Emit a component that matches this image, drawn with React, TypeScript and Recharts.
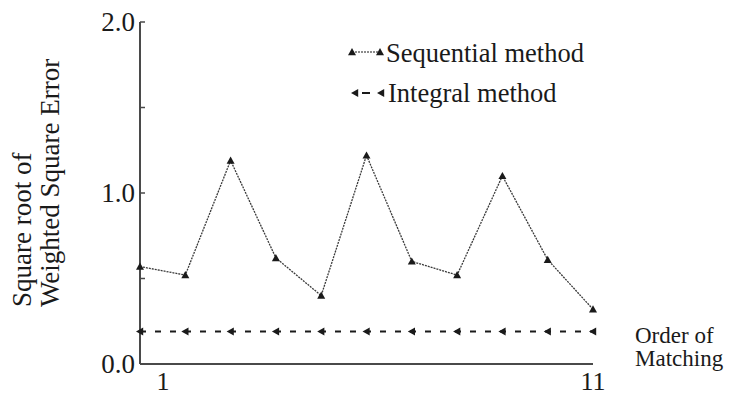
import React from 'react';
import { LineChart, Line, XAxis, YAxis, Legend } from 'recharts';

// order of matching (x) and the two error curves
const orders = [1, 2, 3, 4, 5, 6, 7, 8, 9, 10, 11];
const sequentialError = [0.57, 0.52, 1.19, 0.62, 0.4, 1.22, 0.6, 0.52, 1.1, 0.61, 0.32];
const integralError = [0.19, 0.19, 0.19, 0.19, 0.19, 0.19, 0.19, 0.19, 0.19, 0.19, 0.19];

const yTicks = [0, 0.5, 1, 1.5, 2];
const yTickLabels = ['0.0', '', '1.0', '', '2.0'];
const xTicks = [1, 11];

const FONT = 'Liberation Serif';
const INK = '#1a1a1a';
const AXIS = '#4a4a4a';

const chartData = orders.map((order, i) => ({
  order,
  sequential: sequentialError[i],
  integral: integralError[i],
}));

const upTriangle = (cx: number, cy: number, r = 4) =>
  `M${cx},${cy - r} L${cx + r},${cy + r * 0.8} L${cx - r},${cy + r * 0.8} Z`;

const leftTriangle = (cx: number, cy: number, r = 4) =>
  `M${cx - r},${cy} L${cx + r * 0.8},${cy - r} L${cx + r * 0.8},${cy + r} Z`;

const SeqDot = (props: any) => {
  const { cx, cy, index } = props;
  return <path key={`s-${index}`} d={upTriangle(cx, cy)} fill={INK} />;
};

const IntDot = (props: any) => {
  const { cx, cy, index } = props;
  return <path key={`i-${index}`} d={leftTriangle(cx, cy)} fill={INK} />;
};

const XTick = (props: any) => {
  const { x, y, payload } = props;
  // the "1" label sits a bit to the right of the axis corner in the original
  const shift = payload.value === 1 ? 23 : 0;
  return (
    <text x={x + shift} y={y} dy={26} textAnchor="middle" fontSize={26} fontFamily={FONT} fill={INK}>
      {payload.value}
    </text>
  );
};

const YTick = (props: any) => {
  const { x, y, payload } = props;
  const label = yTickLabels[yTicks.indexOf(payload.value)] ?? '';
  if (!label) return null;
  return (
    <text x={x} y={y} dy={9} textAnchor="end" fontSize={27} fontFamily={FONT} fill={INK}>
      {label}
    </text>
  );
};

const YLabel = (props: any) => {
  const vb = props.viewBox || { x: 0, y: 22, width: 140, height: 342 };
  const cx = vb.x + 31;
  const cy = vb.y + vb.height - 57;
  return (
    <text
      transform={`rotate(-90, ${cx}, ${cy})`}
      x={cx}
      y={cy}
      textAnchor="start"
      fontSize={27}
      fontFamily={FONT}
      fill={INK}
    >
      <tspan x={cx} dy={0}>Square root of</tspan>
      <tspan x={cx} dy={28}>Weighted Square Error</tspan>
    </text>
  );
};

const XLabel = (props: any) => {
  const vb = props.viewBox || { x: 140, y: 364, width: 453, height: 30 };
  const left = vb.x + vb.width + 42;
  return (
    <text fontSize={23} fontFamily={FONT} fill={INK}>
      <tspan x={left} y={vb.y - 21}>Order of</tspan>
      <tspan x={left} y={vb.y + 2}>Matching</tspan>
    </text>
  );
};

const LegendBox = () => (
  <svg width={260} height={90} style={{ display: 'block', overflow: 'visible' }}>
    <line x1={12} y1={22} x2={40} y2={22} stroke={INK} strokeWidth={1.2} strokeDasharray="2 1" />
    <path d={upTriangle(12, 22)} fill={INK} />
    <path d={upTriangle(40, 22)} fill={INK} />
    <text x={46} y={32} fontSize={26.5} fontFamily={FONT} fill={INK}>Sequential method</text>

    <line x1={22} y1={63} x2={30} y2={63} stroke={INK} strokeWidth={2} />
    <path d={leftTriangle(15, 63)} fill={INK} />
    <path d={leftTriangle(41, 63)} fill={INK} />
    <text x={48} y={72} fontSize={26.5} fontFamily={FONT} fill={INK}>Integral method</text>
  </svg>
);

export default function App() {
  return (
    <div style={{ position: 'absolute', left: 0, top: 0, width: 740, height: 394, background: '#fff', fontFamily: FONT }}>
      <LineChart width={740} height={394} data={chartData} margin={{ top: 22, right: 147, bottom: 0, left: 0 }}>
        <XAxis
          dataKey="order"
          type="number"
          domain={[1, 11]}
          ticks={xTicks}
          height={30}
          axisLine={{ stroke: AXIS, strokeWidth: 2 }}
          tickLine={false}
          tickSize={0}
          tickMargin={0}
          tick={<XTick />}
          label={{ content: <XLabel /> }}
        />
        <XAxis
          xAxisId="top"
          dataKey="order"
          type="number"
          orientation="top"
          domain={[1, 11]}
          height={0}
          tick={false}
          tickLine={false}
          axisLine={{ stroke: AXIS, strokeWidth: 2 }}
        />
        <YAxis
          type="number"
          domain={[0, 2]}
          ticks={yTicks}
          width={140}
          axisLine={{ stroke: AXIS, strokeWidth: 2 }}
          tickLine={{ stroke: AXIS, strokeWidth: 1.5 }}
          tickSize={-5}
          tickMargin={10}
          tick={<YTick />}
          label={{ content: <YLabel /> }}
        />
        <YAxis
          yAxisId="right"
          orientation="right"
          type="number"
          domain={[0, 2]}
          ticks={yTicks}
          width={0}
          axisLine={{ stroke: AXIS, strokeWidth: 2 }}
          tickLine={{ stroke: AXIS, strokeWidth: 1.5 }}
          tickSize={-5}
          tick={false}
        />
        <Legend
          layout="vertical"
          align="center"
          verticalAlign="middle"
          wrapperStyle={{ left: 340, top: 30, width: 260, height: 90 }}
          content={<LegendBox />}
        />
        <Line
          dataKey="integral"
          stroke={INK}
          strokeWidth={2}
          strokeDasharray="6 9"
          dot={IntDot}
          activeDot={false}
          isAnimationActive={false}
        />
        <Line
          dataKey="sequential"
          stroke="#3a3a3a"
          strokeWidth={1.3}
          strokeDasharray="2 1"
          dot={SeqDot}
          activeDot={false}
          isAnimationActive={false}
        />
      </LineChart>
    </div>
  );
}
